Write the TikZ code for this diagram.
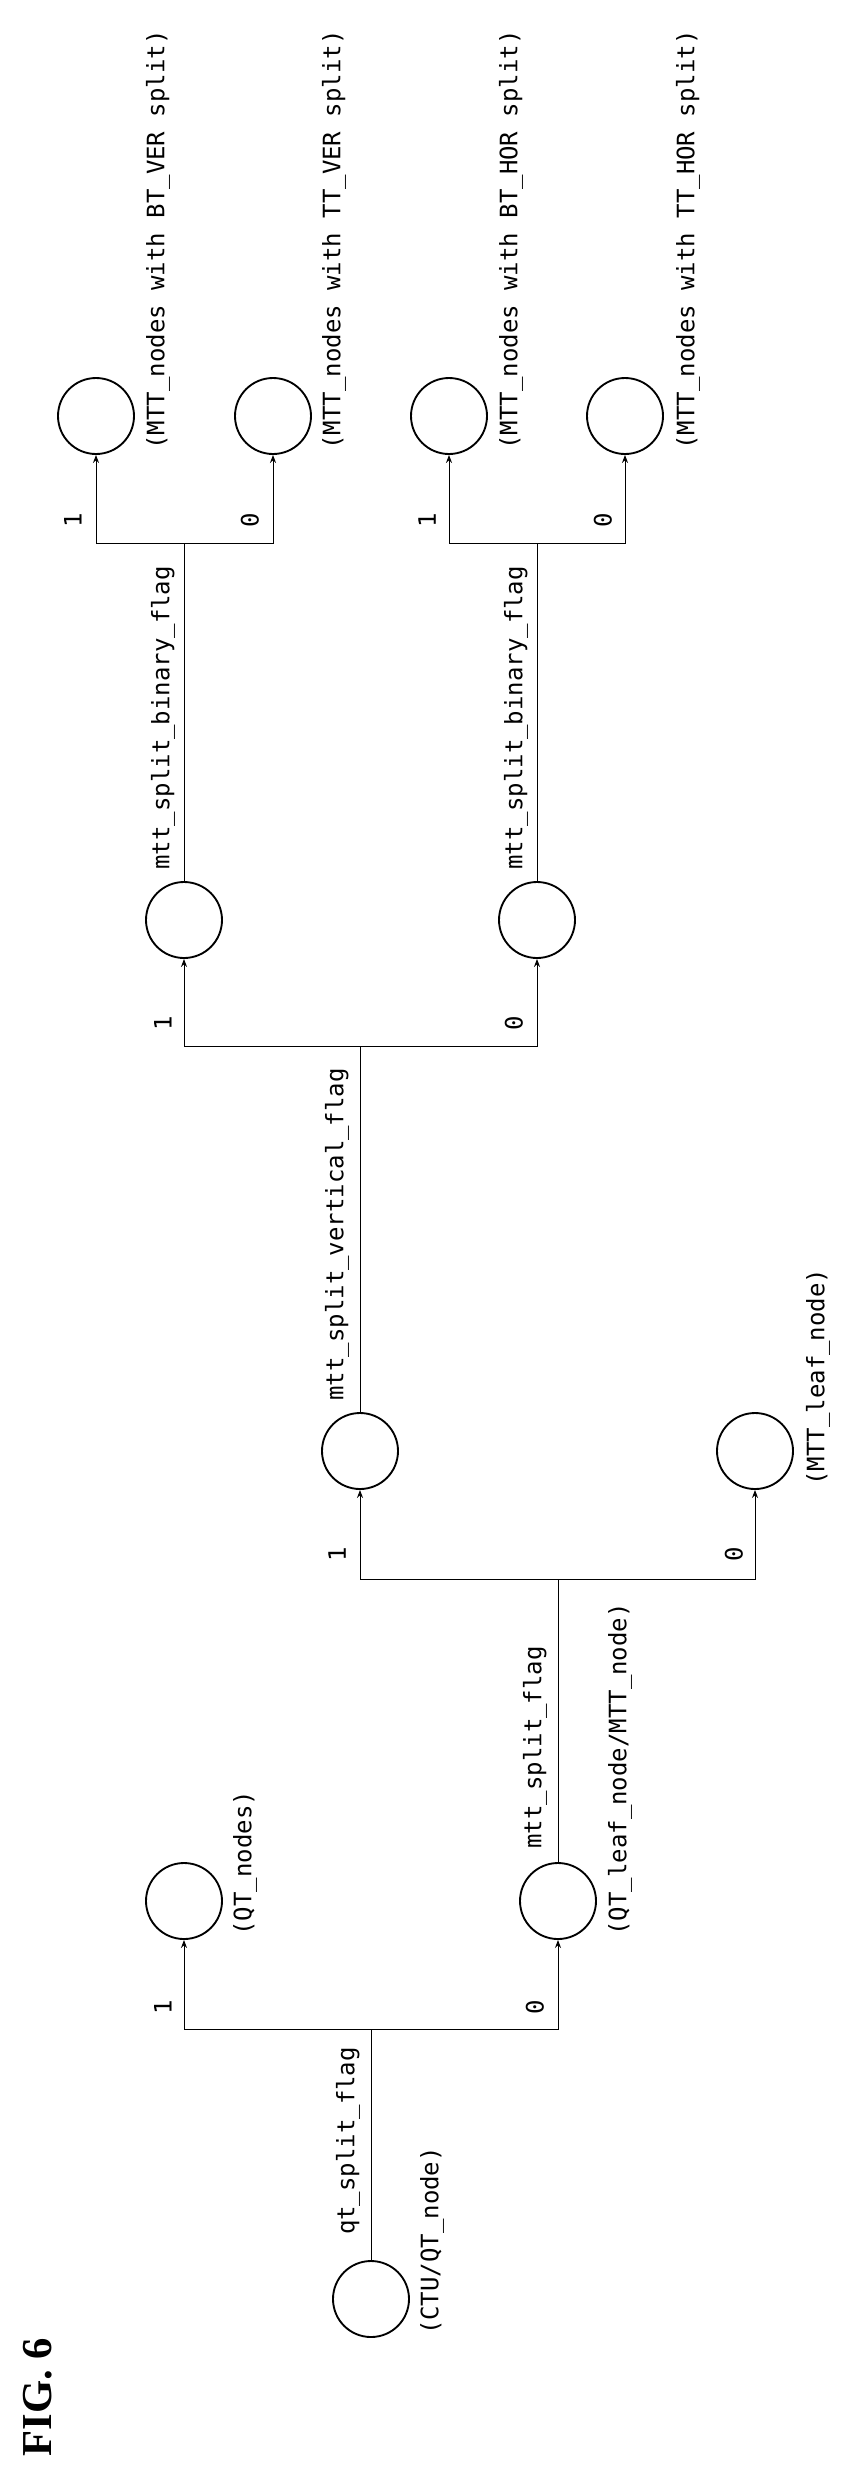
\documentclass[tikz,border=0pt]{standalone}
\usepackage{fontspec}
\newfontfamily\lblfont{DejaVu Sans Mono}
\newfontfamily\figfont{Liberation Serif}
\usetikzlibrary{shapes.geometric,arrows.meta}
\tikzset{every picture/.style={line width=0.75pt}}
\tikzset{
  tnode/.style={draw,circle,line width=1.4pt,minimum size=57pt,inner sep=0pt},
  lbl/.style={rotate=90,inner sep=0.75pt,font=\lblfont\fontsize{18}{18}\selectfont},
  br/.style={-{Stealth[length=6pt,width=4.5pt]}}
}
\begin{document}
\begin{tikzpicture}[x=0.75pt,y=0.75pt,yscale=-1,xscale=1]
    \useasboundingbox (0,0) rectangle (852,2492);

    % Nodes
    \node[tnode] (ctu) at (371,2299) {};
    \node[tnode] (qtn) at (184,1901) {};
    \node[tnode] (mttn) at (558,1901) {};
    \node[tnode] (vflag) at (360,1451) {};
    \node[tnode] (mttleaf) at (755,1451) {};
    \node[tnode] (bin1) at (184,920) {};
    \node[tnode] (bin2) at (537,920) {};
    \node[tnode] (btver) at (96,416) {};
    \node[tnode] (ttver) at (273,416) {};
    \node[tnode] (bthor) at (449,416) {};
    \node[tnode] (tthor) at (625,416) {};

    % Bus points
    \coordinate (qtbus) at (371,2029);
    \coordinate (mttbus) at (558,1579);
    \coordinate (vbus) at (360,1046);
    \coordinate (bbus1) at (184,543);
    \coordinate (bbus2) at (537,543);

    % Connectors
    \draw (ctu) -- (qtbus);
    \draw[br] (qtbus) -| (qtn);
    \draw[br] (qtbus) -| (mttn);
    \draw (mttn) -- (mttbus);
    \draw[br] (mttbus) -| (vflag);
    \draw[br] (mttbus) -| (mttleaf);
    \draw (vflag) -- (vbus);
    \draw[br] (vbus) -| (bin1);
    \draw[br] (vbus) -| (bin2);
    \draw (bin1) -- (bbus1);
    \draw[br] (bbus1) -| (btver);
    \draw[br] (bbus1) -| (ttver);
    \draw (bin2) -- (bbus2);
    \draw[br] (bbus2) -| (bthor);
    \draw[br] (bbus2) -| (tthor);

    % Flag texts
    \node[lbl] (t1) at (348,2141) {qt\_split\_flag};
    \node[lbl,anchor=west] (t2) at (535,1850) {mtt\_split\_flag};
    \node[lbl,anchor=west] (t3) at (337,1402) {mtt\_split\_vertical\_flag};
    \node[lbl,anchor=west] (t4) at (163,871) {mtt\_split\_binary\_flag};
    \node[lbl,anchor=west] (t5) at (516,871) {mtt\_split\_binary\_flag};

    % Node texts
    \node[lbl] (n1) at (432,2241) {(CTU/QT\_node)};
    \node[lbl,anchor=west] (n2) at (245,1937) {(QT\_nodes)};
    \node[lbl,anchor=west] (n3) at (620,1937) {(QT\_leaf\_node/MTT\_node)};
    \node[lbl,anchor=west] (n4) at (818,1487) {(MTT\_leaf\_node)};
    \node[lbl,anchor=west] (n5) at (158,451) {(MTT\_nodes with BT\_VER split)};
    \node[lbl,anchor=west] (n6) at (334,451) {(MTT\_nodes with TT\_VER split)};
    \node[lbl,anchor=west] (n7) at (511,451) {(MTT\_nodes with BT\_HOR split)};
    \node[lbl,anchor=west] (n8) at (688,451) {(MTT\_nodes with TT\_HOR split)};

    % Branch values
    \node[lbl] (v1) at (163,2007) {1};
    \node[lbl] (v2) at (535,2007) {0};
    \node[lbl] (v3) at (337,1554) {1};
    \node[lbl] (v4) at (734,1554) {0};
    \node[lbl] (v5) at (163,1023) {1};
    \node[lbl] (v6) at (514,1023) {0};
    \node[lbl] (v7) at (73,520) {1};
    \node[lbl] (v8) at (250,520) {0};
    \node[lbl] (v9) at (427,520) {1};
    \node[lbl] (v10) at (603,520) {0};

    % Figure title
    \node[rotate=90,inner sep=0pt,font=\figfont\bfseries\fontsize{32}{32}\selectfont] (fig) at (38,2397) {FIG. 6};

\end{tikzpicture}
\end{document}
